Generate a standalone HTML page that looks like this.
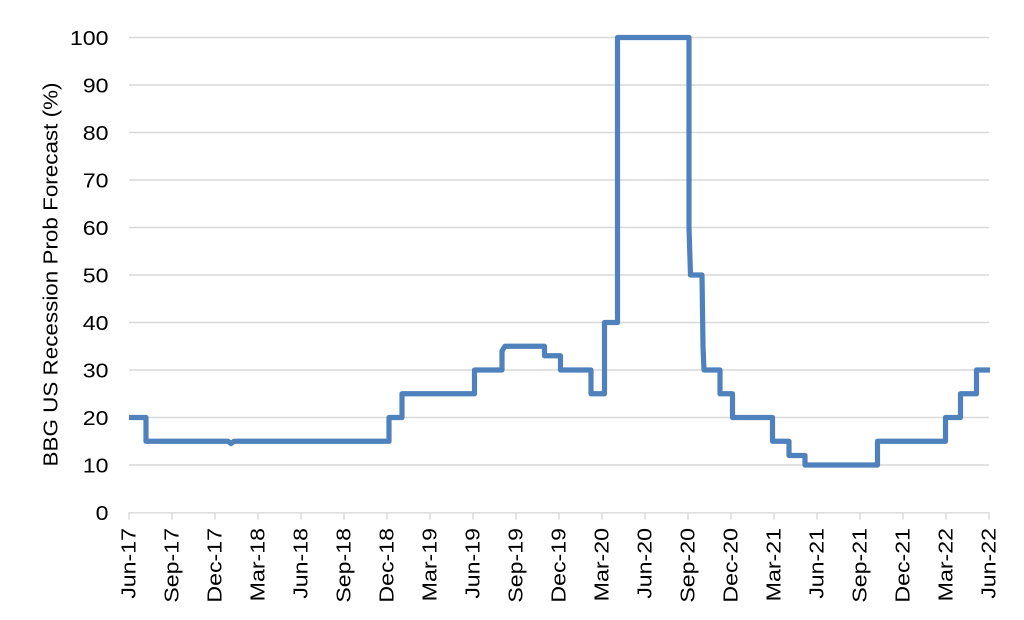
<!DOCTYPE html>
<html>
<head>
<meta charset="utf-8">
<style>
  html, body { margin: 0; padding: 0; background: #ffffff; }
  body { width: 1024px; height: 620px; overflow: hidden; }
  svg { display: block; }
  text { font-family: "Liberation Sans", Arial, sans-serif; fill: #000; }
</style>
</head>
<body>
<svg width="1024" height="620" viewBox="0 0 1024 620" xmlns="http://www.w3.org/2000/svg">
  <rect x="0" y="0" width="1024" height="620" fill="#ffffff"/>
  <!-- gridlines -->
  <g stroke="#d9d9d9" stroke-width="1.4">
    <line x1="129" y1="37.5" x2="989" y2="37.5"/>
    <line x1="129" y1="85" x2="989" y2="85"/>
    <line x1="129" y1="132.5" x2="989" y2="132.5"/>
    <line x1="129" y1="180" x2="989" y2="180"/>
    <line x1="129" y1="227.5" x2="989" y2="227.5"/>
    <line x1="129" y1="275" x2="989" y2="275"/>
    <line x1="129" y1="322.5" x2="989" y2="322.5"/>
    <line x1="129" y1="370" x2="989" y2="370"/>
    <line x1="129" y1="417.5" x2="989" y2="417.5"/>
    <line x1="129" y1="465" x2="989" y2="465"/>
    <!-- axis -->
    <line x1="128.3" y1="512.8" x2="989.7" y2="512.8"/>
  </g>
  <!-- ticks -->
  <g stroke="#d9d9d9" stroke-width="1.4">
    <line x1="129" y1="512.8" x2="129" y2="519.5"/>
    <line x1="172" y1="512.8" x2="172" y2="519.5"/>
    <line x1="215" y1="512.8" x2="215" y2="519.5"/>
    <line x1="258" y1="512.8" x2="258" y2="519.5"/>
    <line x1="301" y1="512.8" x2="301" y2="519.5"/>
    <line x1="344" y1="512.8" x2="344" y2="519.5"/>
    <line x1="387" y1="512.8" x2="387" y2="519.5"/>
    <line x1="430" y1="512.8" x2="430" y2="519.5"/>
    <line x1="473" y1="512.8" x2="473" y2="519.5"/>
    <line x1="516" y1="512.8" x2="516" y2="519.5"/>
    <line x1="559" y1="512.8" x2="559" y2="519.5"/>
    <line x1="602" y1="512.8" x2="602" y2="519.5"/>
    <line x1="645" y1="512.8" x2="645" y2="519.5"/>
    <line x1="688" y1="512.8" x2="688" y2="519.5"/>
    <line x1="731" y1="512.8" x2="731" y2="519.5"/>
    <line x1="774" y1="512.8" x2="774" y2="519.5"/>
    <line x1="817" y1="512.8" x2="817" y2="519.5"/>
    <line x1="860" y1="512.8" x2="860" y2="519.5"/>
    <line x1="903" y1="512.8" x2="903" y2="519.5"/>
    <line x1="946" y1="512.8" x2="946" y2="519.5"/>
    <line x1="989" y1="512.8" x2="989" y2="519.5"/>
  </g>

  <!-- y tick labels -->
  <g font-size="20.5" text-anchor="end">
    <text transform="translate(108.5,44.8) scale(1.13,1)">100</text>
    <text transform="translate(108.5,92.3) scale(1.13,1)">90</text>
    <text transform="translate(108.5,139.8) scale(1.13,1)">80</text>
    <text transform="translate(108.5,187.3) scale(1.13,1)">70</text>
    <text transform="translate(108.5,234.8) scale(1.13,1)">60</text>
    <text transform="translate(108.5,282.3) scale(1.13,1)">50</text>
    <text transform="translate(108.5,329.8) scale(1.13,1)">40</text>
    <text transform="translate(108.5,377.3) scale(1.13,1)">30</text>
    <text transform="translate(108.5,424.8) scale(1.13,1)">20</text>
    <text transform="translate(108.5,472.3) scale(1.13,1)">10</text>
    <text transform="translate(108.5,519.8) scale(1.13,1)">0</text>
  </g>

  <!-- x tick labels -->
  <g font-size="20.5" text-anchor="end">
    <text transform="translate(135.5,528) rotate(-90) scale(1.13,1)">Jun-17</text>
    <text transform="translate(178.5,528) rotate(-90) scale(1.13,1)">Sep-17</text>
    <text transform="translate(221.5,528) rotate(-90) scale(1.13,1)">Dec-17</text>
    <text transform="translate(264.5,528) rotate(-90) scale(1.13,1)">Mar-18</text>
    <text transform="translate(307.5,528) rotate(-90) scale(1.13,1)">Jun-18</text>
    <text transform="translate(350.5,528) rotate(-90) scale(1.13,1)">Sep-18</text>
    <text transform="translate(393.5,528) rotate(-90) scale(1.13,1)">Dec-18</text>
    <text transform="translate(436.5,528) rotate(-90) scale(1.13,1)">Mar-19</text>
    <text transform="translate(479.5,528) rotate(-90) scale(1.13,1)">Jun-19</text>
    <text transform="translate(522.5,528) rotate(-90) scale(1.13,1)">Sep-19</text>
    <text transform="translate(565.5,528) rotate(-90) scale(1.13,1)">Dec-19</text>
    <text transform="translate(608.5,528) rotate(-90) scale(1.13,1)">Mar-20</text>
    <text transform="translate(651.5,528) rotate(-90) scale(1.13,1)">Jun-20</text>
    <text transform="translate(694.5,528) rotate(-90) scale(1.13,1)">Sep-20</text>
    <text transform="translate(737.5,528) rotate(-90) scale(1.13,1)">Dec-20</text>
    <text transform="translate(780.5,528) rotate(-90) scale(1.13,1)">Mar-21</text>
    <text transform="translate(823.5,528) rotate(-90) scale(1.13,1)">Jun-21</text>
    <text transform="translate(866.5,528) rotate(-90) scale(1.13,1)">Sep-21</text>
    <text transform="translate(909.5,528) rotate(-90) scale(1.13,1)">Dec-21</text>
    <text transform="translate(952.5,528) rotate(-90) scale(1.13,1)">Mar-22</text>
    <text transform="translate(995.5,528) rotate(-90) scale(1.13,1)">Jun-22</text>
  </g>

  <!-- y axis title -->
  <text transform="translate(57.3,274.5) rotate(-90)" font-size="20.5" text-anchor="middle" textLength="384" lengthAdjust="spacingAndGlyphs">BBG US Recession Prob Forecast (%)</text>

  <!-- series -->
  <path fill="none" stroke="#4f81bd" stroke-width="5.2" stroke-linejoin="round" stroke-linecap="butt"
    d="M129,417.5 H146 V441.25 H228 L231,443.6 L234,441.25 H389 V417.5 H402 V393.75 H474.5 V370 H502 V351 L505,346.25 H544.5 V355.75 H560.5 V370 H591 V393.75 H604.5 V322.5 H617.5 V37.5 H689 V227.5 L690.5,275 H702 L703,346 L704,370 H720 V393.75 H732.5 V417.5 H772.5 V441.25 H789 V455.5 H805 V465 H877.5 V441.25 H945.5 V417.5 H960.5 V393.75 H976.5 V370 H990"/>
</svg>
</body>
</html>
